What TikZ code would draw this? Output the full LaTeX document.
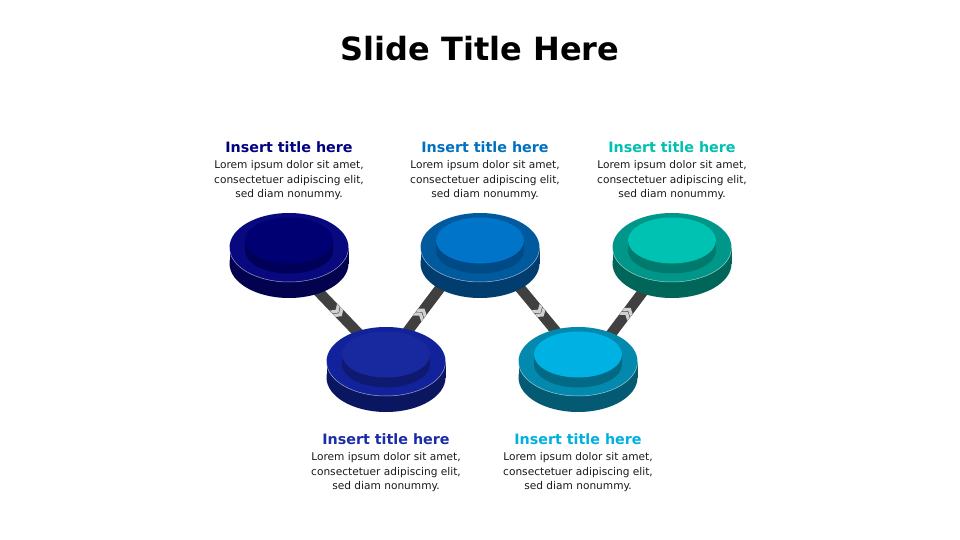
\documentclass[tikz,border=0pt]{standalone}
\usepackage{fontspec}
\setmainfont{DejaVu Sans}
\usetikzlibrary{decorations.markings}
\definecolor{conncol}{HTML}{404040}
\definecolor{chevcol}{HTML}{D0D0D0}
\definecolor{bodycol}{HTML}{1A1A1A}
% disk 1
\definecolor{aRing}{HTML}{08087F}
\definecolor{aSide}{HTML}{02024F}
\definecolor{aTop}{HTML}{000072}
\definecolor{aInSide}{HTML}{000058}
% disk 2
\definecolor{bRing}{HTML}{12229A}
\definecolor{bSide}{HTML}{0B1660}
\definecolor{bTop}{HTML}{1829A0}
\definecolor{bInSide}{HTML}{0E1A70}
% disk 3
\definecolor{cRing}{HTML}{015A9E}
\definecolor{cSide}{HTML}{013D6E}
\definecolor{cTop}{HTML}{0074C8}
\definecolor{cInSide}{HTML}{004A85}
% disk 4
\definecolor{dRing}{HTML}{0388AE}
\definecolor{dSide}{HTML}{035A72}
\definecolor{dTop}{HTML}{00B2E3}
\definecolor{dInSide}{HTML}{036A86}
% disk 5
\definecolor{eRing}{HTML}{00978A}
\definecolor{eSide}{HTML}{00665A}
\definecolor{eTop}{HTML}{00C2B2}
\definecolor{eInSide}{HTML}{007A6C}
% titles
\definecolor{tA}{HTML}{000080}
\definecolor{tB}{HTML}{1B2CA8}
\definecolor{tC}{HTML}{0070C0}
\definecolor{tD}{HTML}{00B0E0}
\definecolor{tE}{HTML}{00C0B0}

\newcommand{\mydisk}[6]{%
  \fill[#4] (#1,#2+16) ellipse [x radius=59.5, y radius=34.5];
  \fill[#4] (#1-59.5,#2) rectangle (#1+59.5,#2+16);
  \fill[#3] (#1,#2) ellipse [x radius=59.5, y radius=34.5];
  \draw[white, opacity=.6, line width=.5] (#1-59.5,#2) arc [start angle=180, end angle=0, x radius=59.5, y radius=34.5];
  \fill[#6] (#1,#2+3) ellipse [x radius=44, y radius=23];
  \fill[#6] (#1-44,#2-7) rectangle (#1+44,#2+3);
  \fill[#5] (#1,#2-7) ellipse [x radius=44, y radius=23];
}
\newcommand{\mygroup}[4]{% name, x, title baseline y, color
  \node[ttl, text=#4] (#1t) at (#2,#3) {Insert title here};
  \node[body] (#1l1) at (#2,#3+16.2) {Lorem ipsum dolor sit amet,};
  \node[body] (#1l2) at (#2,#3+30.7) {consectetuer adipiscing elit,};
  \node[body] (#1l3) at (#2,#3+45.2) {sed diam nonummy.};
}
\newcommand{\chevshape}{%
  \fill[chevcol] (-6,-5) -- (-2,-5) -- (1.5,0) -- (-2,5) -- (-6,5) -- (-2.5,0) -- cycle;
  \fill[chevcol] (-1.2,-5) -- (2.8,-5) -- (6.3,0) -- (2.8,5) -- (-1.2,5) -- (2.3,0) -- cycle;
}

\begin{document}
\begin{tikzpicture}[x=1pt, y=-1pt,
  conn/.style={draw=conncol, line width=10.5pt},
  chevat/.style={postaction={decorate}, decoration={markings, mark=at position #1 with {\chevshape}}},
  ttl/.style={font=\bfseries\fontsize{14.3}{17}\selectfont, anchor=base, inner sep=0pt},
  body/.style={font=\fontsize{10.6}{14}\selectfont, text=bodycol, anchor=base, inner sep=0pt},
  bigttl/.style={font=\bfseries\fontsize{32}{38}\selectfont, anchor=base, inner sep=0pt}]
\useasboundingbox[fill=white] (0,0) rectangle (960,540);

% connector end points
\coordinate (c1a) at (289,261);
\coordinate (c1b) at (386,362);
\coordinate (c2a) at (386,360);
\coordinate (c2b) at (480,235);
\coordinate (c3a) at (482,242);
\coordinate (c3b) at (578,358);
\coordinate (c4a) at (578,378);
\coordinate (c4b) at (672,253);

\draw[conn, chevat=.5] (c1a) -- (c1b);
\draw[conn, chevat=.37] (c2a) -- (c2b);
\draw[conn, chevat=.6] (c3a) -- (c3b);
\draw[conn, chevat=.52] (c4a) -- (c4b);

\mydisk{289}{247.5}{aRing}{aSide}{aTop}{aInSide}
\mydisk{386}{361.5}{bRing}{bSide}{bTop}{bInSide}
\mydisk{480}{247.5}{cRing}{cSide}{cTop}{cInSide}
\mydisk{578}{361.5}{dRing}{dSide}{dTop}{dInSide}
\mydisk{672}{247.5}{eRing}{eSide}{eTop}{eInSide}

\node[bigttl] (title) at (480,61) {Slide Title Here};

\mygroup{g1}{289}{152.5}{tA}
\mygroup{g2}{386}{444.5}{tB}
\mygroup{g3}{485}{152.5}{tC}
\mygroup{g4}{578}{444.5}{tD}
\mygroup{g5}{672}{152.5}{tE}
\end{tikzpicture}
\end{document}
